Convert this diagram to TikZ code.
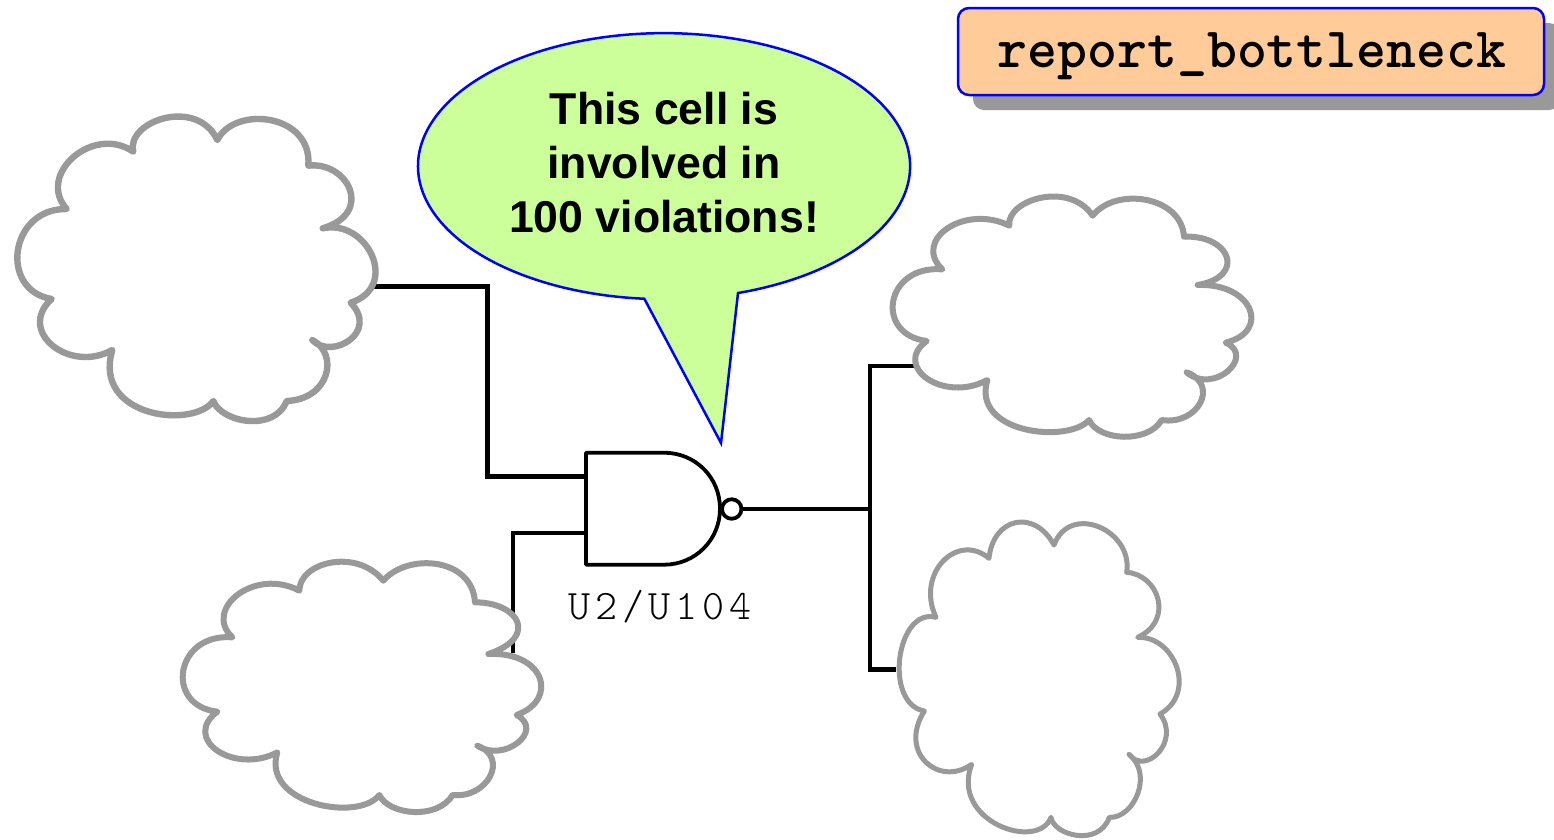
\documentclass[tikz,border=0pt]{standalone}
\usepackage{fontspec}
\setmainfont{Liberation Sans}
\newfontfamily\cmdfont{Latin Modern Mono Light}
\newfontfamily\labfont{Latin Modern Mono Light}[LetterSpace=11.5]
\usetikzlibrary{calc}
\definecolor{cloudgray}{HTML}{999999}
\definecolor{calloutgreen}{HTML}{CCFF99}
\definecolor{cmdorange}{HTML}{FFCC99}
\tikzset{
  cloud outline/.style={draw=cloudgray,line width=6pt,fill=white,line join=round,line cap=round},
  wire/.style={draw=black,line width=4.8pt,line join=miter},
  gate line/.style={draw=black,line width=3.8pt,line join=round},
  zoomed/.style={x=0.33333pt,y=-0.33333pt}
}
% one cloud lobe: a single cubic fitted to start, four points along it, end
\newcommand\lobe[6]{.. controls ($-1.108*#1+1.711*#2+1.176*#3-0.214*#4-1.069*#5+0.504*#6$) and ($0.504*#1-1.069*#2-0.214*#3+1.176*#4+1.711*#5-1.108*#6$) .. #6}
\begin{document}
\begin{tikzpicture}[x=1pt,y=-1pt]
\useasboundingbox (0,0) rectangle (1554,839);
\fill[white] (0,0) rectangle (1554,839);
% anchor points
\coordinate (c1out) at (371,286.5);
\coordinate (c2out) at (513,653);
\coordinate (c3in) at (916,366);
\coordinate (c4in) at (896,669.5);
\coordinate (pinA) at (586,476.5);
\coordinate (pinB) at (586,533);
\coordinate (bend1) at (487.5,286.5);
\coordinate (bend3) at (870,366);
\coordinate (bend4) at (870,669.5);
% gate
\node[circle,gate line,fill=white,minimum size=19.5pt,inner sep=0pt] (bub) at (731.7,509) {};
\draw[wire] (c1out) -- (bend1) -- (bend1 |- pinA) -- (pinA);
\draw[wire] (c2out) -- (c2out |- pinB) -- (pinB);
\draw[wire] (bub.east) -- (bub.east -| bend3);
\draw[wire] (c3in) -- (bend3) -- (bend4) -- (c4in);
\draw[gate line,fill=white] (586,452.7) -- (664,452.7) .. controls (695,452.7) and (720,477) .. (720,508.7) .. controls (720,540) and (695,564.7) .. (664,564.7) -- (586,564.7) -- cycle;
\node[font=\labfont\fontsize{42}{42}\selectfont,inner sep=0pt,anchor=base] (gatelabel) at (660,619) {U2/U104};
% cloud 1
\begin{scope}[shift={(0,100)},zoomed]
\path[cloud outline,line width=6.4pt] (400,155) \lobe{(400,155)}{(412,105)}{(460,65)}{(530,50)}{(600,65)}{(652,120)}
 \lobe{(652,120)}{(700,75)}{(775,55)}{(850,72)}{(905,120)}{(925,197)}
 \lobe{(925,197)}{(990,205)}{(1035,245)}{(1055,295)}{(1035,345)}{(968,385)}
 \lobe{(968,385)}{(1040,392)}{(1100,435)}{(1128,505)}{(1110,560)}{(1052,608)}
 \lobe{(1052,608)}{(1082,660)}{(1065,705)}{(1020,733)}{(985,740)}{(937,720)}
 \lobe{(937,720)}{(970,755)}{(985,800)}{(965,850)}{(925,885)}{(860,903)}
 \lobe{(860,903)}{(825,945)}{(775,962)}{(715,960)}{(670,935)}{(640,903)}
 \lobe{(640,903)}{(580,935)}{(490,948)}{(400,915)}{(340,850)}{(337,750)}
 \lobe{(337,750)}{(260,775)}{(185,755)}{(135,705)}{(122,665)}{(155,597)}
 \lobe{(155,597)}{(85,560)}{(50,490)}{(65,410)}{(115,355)}{(200,327)}
 \lobe{(200,327)}{(175,265)}{(195,195)}{(250,150)}{(325,133)}{(400,155)} -- cycle;
\end{scope}
% cloud 2
\begin{scope}[shift={(170,540)},zoomed]
\path[cloud outline] (388,152) \lobe{(388,152)}{(410,105)}{(450,78)}{(515,65)}{(585,78)}{(640,122)}
 \lobe{(640,122)}{(695,85)}{(765,68)}{(835,82)}{(890,120)}{(915,187)}
 \lobe{(915,187)}{(985,195)}{(1030,230)}{(1042,265)}{(1025,305)}{(955,342)}
 \lobe{(955,342)}{(1040,352)}{(1095,390)}{(1115,440)}{(1095,485)}{(1040,525)}
 \lobe{(1040,525)}{(1068,555)}{(1060,595)}{(1020,622)}{(975,630)}{(922,617)}
 \lobe{(922,617)}{(960,645)}{(970,690)}{(945,730)}{(905,755)}{(848,765)}
 \lobe{(848,765)}{(810,800)}{(760,815)}{(700,813)}{(660,795)}{(628,765)}
 \lobe{(628,765)}{(565,795)}{(480,802)}{(395,775)}{(325,715)}{(322,637)}
 \lobe{(322,637)}{(245,662)}{(170,645)}{(120,610)}{(108,570)}{(142,515)}
 \lobe{(142,515)}{(75,485)}{(33,425)}{(50,355)}{(105,312)}{(187,292)}
 \lobe{(187,292)}{(160,240)}{(180,185)}{(235,145)}{(305,133)}{(388,152)} -- cycle;
\end{scope}
% cloud 3
\begin{scope}[shift={(880,180)},zoomed]
\path[cloud outline] (388,137) \lobe{(388,137)}{(405,95)}{(450,62)}{(515,50)}{(585,62)}{(638,107)}
 \lobe{(638,107)}{(695,70)}{(760,55)}{(830,68)}{(890,110)}{(912,170)}
 \lobe{(912,170)}{(985,178)}{(1030,215)}{(1040,250)}{(1020,290)}{(953,315)}
 \lobe{(953,315)}{(1035,325)}{(1095,365)}{(1115,410)}{(1095,455)}{(1037,488)}
 \lobe{(1037,488)}{(1068,515)}{(1060,560)}{(1020,588)}{(975,595)}{(920,577)}
 \lobe{(920,577)}{(960,605)}{(970,650)}{(945,690)}{(905,712)}{(845,720)}
 \lobe{(845,720)}{(810,752)}{(760,770)}{(700,768)}{(660,750)}{(627,720)}
 \lobe{(627,720)}{(565,748)}{(480,757)}{(395,733)}{(325,680)}{(322,600)}
 \lobe{(322,600)}{(245,625)}{(170,610)}{(120,575)}{(108,535)}{(140,483)}
 \lobe{(140,483)}{(75,455)}{(32,395)}{(50,325)}{(105,290)}{(187,268)}
 \lobe{(187,268)}{(160,215)}{(178,165)}{(235,128)}{(305,118)}{(388,137)} -- cycle;
\end{scope}
% cloud 4
\begin{scope}[shift={(880,510)},zoomed]
\path[cloud outline,line width=5pt] (327,145) \lobe{(327,145)}{(345,85)}{(385,45)}{(430,37)}{(480,55)}{(522,105)}
 \lobe{(522,105)}{(565,55)}{(625,40)}{(685,65)}{(730,120)}{(740,187)}
 \lobe{(740,187)}{(790,205)}{(825,245)}{(838,290)}{(820,345)}{(773,382)}
 \lobe{(773,382)}{(830,395)}{(880,445)}{(897,505)}{(885,560)}{(840,612)}
 \lobe{(840,612)}{(860,660)}{(850,710)}{(815,745)}{(785,750)}{(747,733)}
 \lobe{(747,733)}{(775,775)}{(782,825)}{(760,880)}{(730,905)}{(688,922)}
 \lobe{(688,922)}{(660,960)}{(615,978)}{(565,972)}{(535,950)}{(513,922)}
 \lobe{(513,922)}{(470,955)}{(390,965)}{(320,925)}{(272,850)}{(275,763)}
 \lobe{(275,763)}{(215,790)}{(160,770)}{(120,730)}{(108,680)}{(133,603)}
 \lobe{(133,603)}{(85,570)}{(50,480)}{(70,395)}{(110,345)}{(168,322)}
 \lobe{(168,322)}{(150,250)}{(170,175)}{(215,135)}{(265,122)}{(327,145)} -- cycle;
\end{scope}
% callout
\draw[draw=blue,fill=calloutgreen,line width=2.5pt,line join=miter]
  (738,293) arc[x radius=246pt,y radius=133pt,start angle=-72.5,end angle=265.4]
  -- (721,443) -- cycle;
\node[align=center,inner sep=0pt,font=\fontsize{44.6}{54}\selectfont\bfseries] (callout) at (664,163) {This cell is\\involved in\\100 violations!};
% command box
\fill[cloudgray,rounded corners=11pt] (973,23) rectangle (1560,110);
\node[draw=blue,fill=cmdorange,line width=2.5pt,rounded corners=11pt,minimum width=586pt,minimum height=87pt,inner sep=0pt] (cmdbox) at (1251,51.5) {};
\node[inner sep=0pt,anchor=base,font=\cmdfont\fontsize{57}{57}\selectfont\bfseries] (cmdtext) at (1252,67) {report\_bottleneck};
\end{tikzpicture}
\end{document}
